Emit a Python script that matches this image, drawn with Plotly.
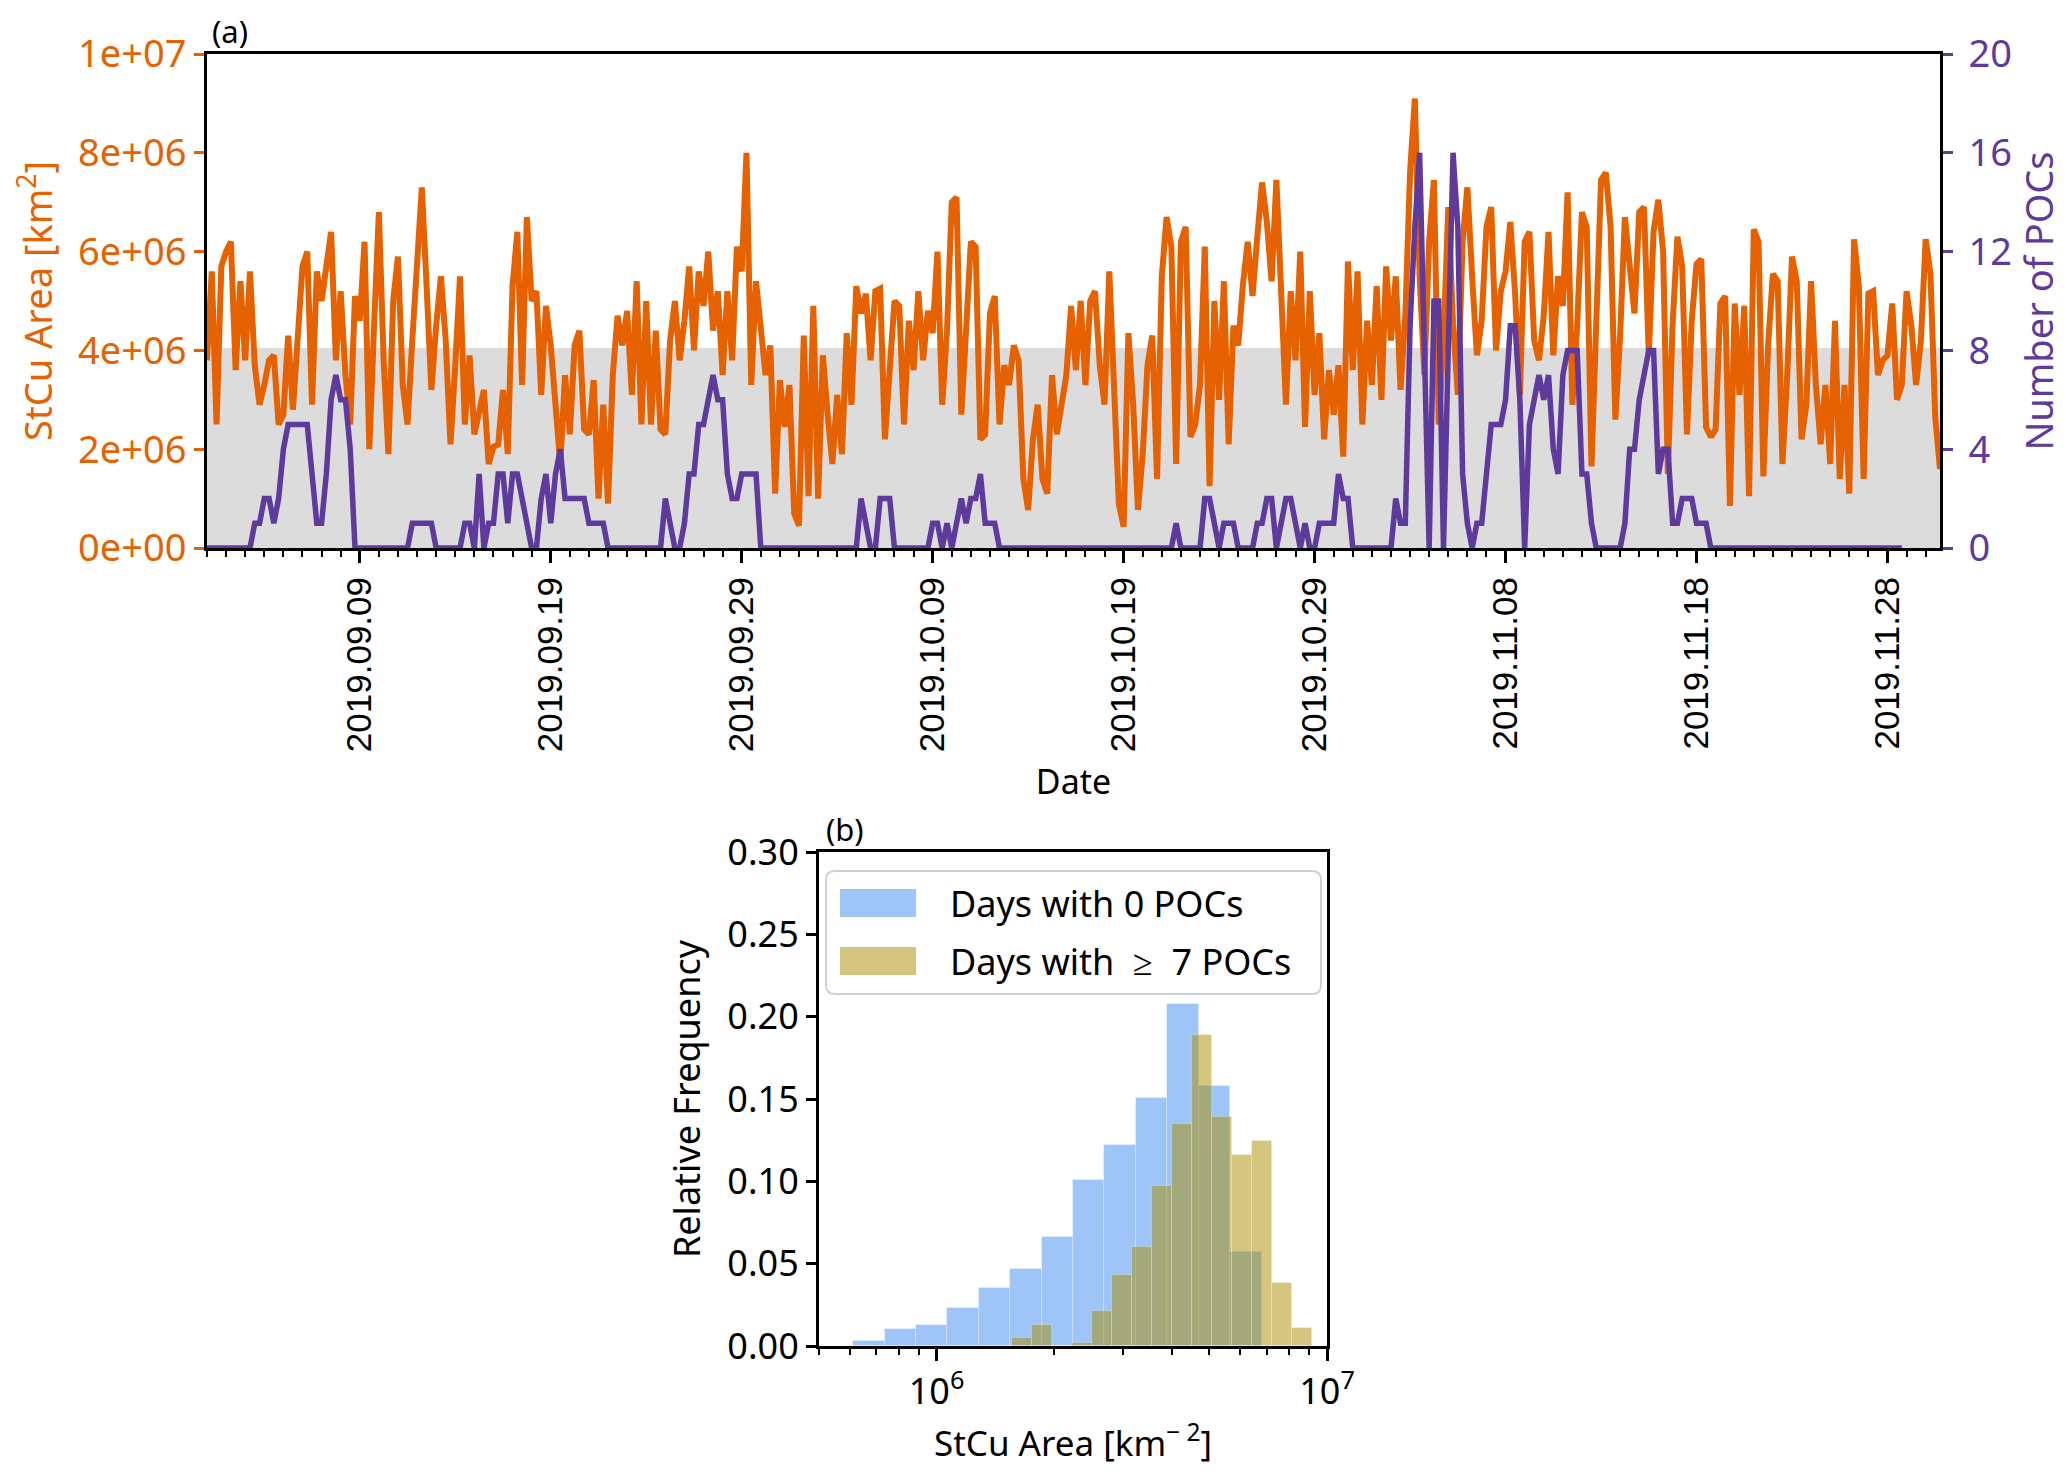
import numpy as np
import pandas as pd
import plotly.graph_objects as go

# ---- data -----------------------------------------------------------------
# StCu area, 6-hourly from 2019-09-01 00:00, in units of 1e6 km^2
STCU_AREA_MKM2 = [
    3.8, 5.6, 2.5, 5.7,   6.0, 6.2, 3.6, 5.4,   3.8, 5.6, 3.7, 2.9,   3.3, 3.8, 3.9, 2.5,
    2.7, 4.3, 2.8, 4.2,   5.7, 6.0, 2.9, 5.6,   5.0, 5.7, 6.4, 3.8,   5.2, 3.5, 2.5, 5.1,
    4.6, 6.2, 2.0, 4.5,   6.8, 3.8, 1.9, 5.0,   5.9, 3.3, 2.5, 4.2,   5.6, 7.3, 5.3, 3.2,
    4.5, 5.5, 4.2, 2.1,   3.7, 5.5, 2.5, 3.9,   2.3, 2.7, 3.2, 1.7,   2.05, 2.1, 3.2, 1.9,
    5.3, 6.4, 3.3, 6.7,   5.0, 5.2, 3.1, 4.9,   4.1, 2.9, 1.7, 3.5,   2.3, 4.1, 4.4, 2.4,
    2.3, 3.4, 1.0, 2.9,   0.9, 3.5, 4.7, 4.1,   4.8, 3.1, 5.4, 2.5,   5.0, 2.5, 4.4, 2.4,
    2.3, 4.2, 5.0, 3.8,   4.6, 5.7, 4.0, 5.6,   4.9, 6.0, 4.4, 5.2,   3.5, 5.2, 3.8, 6.1,
    5.6, 8.0, 3.3, 5.4,   4.35, 3.5, 4.1, 1.1,  3.4, 2.45, 3.3, 0.7,  0.45, 4.3, 1.05, 4.9,
    1.0, 3.9, 2.7, 1.7,   3.1, 1.9, 4.35, 2.9,  5.3, 4.75, 5.15, 3.8, 5.2, 5.25, 2.2, 3.7,
    5.0, 4.9, 2.5, 4.6,   3.6, 5.2, 3.8, 4.8,   4.35, 6.0, 2.9, 4.4,  7.0, 7.1, 2.7, 4.4,
    6.2, 6.1, 2.2, 2.3,   4.75, 5.1, 2.5, 3.7,  3.3, 4.1, 3.8, 1.4,   0.77, 2.2, 2.9, 1.4,
    1.1, 3.5, 2.3, 2.9,   3.5, 4.9, 3.6, 5.0,   3.3, 5.0, 5.2, 3.7,   2.9, 5.6, 3.5, 0.9,
    0.43, 4.35, 2.9, 0.77, 1.9, 3.7, 4.3, 1.4,  5.5, 6.7, 6.1, 1.7,   6.2, 6.5, 2.25, 2.5,
    3.3, 6.1, 1.25, 5.0,  3.0, 5.4, 2.1, 4.5,   4.1, 5.35, 6.2, 5.1,  6.3, 7.4, 6.6, 5.4,
    7.45, 4.9, 2.9, 5.2,  3.8, 6.0, 2.45, 5.2,  3.1, 4.35, 2.2, 3.6,  2.7, 3.7, 1.85, 5.8,
    3.6, 5.6, 2.5, 4.6,   3.3, 5.3, 3.0, 5.7,   4.2, 5.5, 3.2, 4.7,   7.6, 9.1, 5.5, 3.5,
    6.2, 7.45, 2.5, 4.2,  6.9, 4.55, 3.1, 6.2,  7.3, 5.5, 3.9, 4.6,   6.5, 6.9, 4.0, 5.2,
    5.6, 6.6, 5.15, 3.1,  6.2, 6.4, 4.2, 3.8,   4.7, 6.4, 3.9, 5.5,   4.9, 7.2, 2.9, 4.5,
    6.8, 6.5, 1.65, 4.55, 7.45, 7.6, 6.5, 2.6,  4.3, 6.7, 5.7, 4.75,  6.8, 6.9, 3.9, 6.4,
    7.05, 6.0, 1.5, 4.55, 6.3, 5.7, 2.3, 4.6,   5.75, 5.85, 2.45, 2.25, 2.4, 4.95, 5.1, 0.85,
    4.95, 3.1, 4.9, 1.05, 6.45, 6.2, 1.45, 4.1, 5.55, 5.4, 1.7, 3.5,  5.9, 5.4, 2.2, 2.9,
    5.4, 3.3, 2.1, 3.3,   1.7, 4.6, 1.4, 3.3,   1.1, 6.25, 5.3, 1.4,  5.15, 5.2, 3.5, 3.8,
    3.9, 4.95, 3.0, 3.3,  5.2, 4.5, 3.3, 4.2,   6.25, 5.55, 2.65, 1.6,
]

# number of POCs, same 6-hourly time steps
POC_COUNT = [
    0, 0, 0, 0,  0, 0, 0, 0,  0, 0, 1, 1,  2, 2, 1, 2,  4, 5, 5, 5,  5, 5, 3, 1,
    1, 3, 6, 7,  6, 6, 4, 0,  0, 0, 0, 0,  0, 0, 0, 0,  0, 0, 0, 1,  1, 1, 1, 1,
    0, 0, 0, 0,  0, 0, 1, 1,  0, 3, 0, 1,  1, 3, 3, 1,  3, 3, 2, 1,  0, 0, 2, 3,
    1, 3, 4, 2,  2, 2, 2, 2,  1, 1, 1, 1,  0, 0, 0, 0,  0, 0, 0, 0,  0, 0, 0, 0,
    2, 1, 0, 0,  1, 3, 3, 5,  5, 6, 7, 6,  6, 3, 2, 2,  3, 3, 3, 3,  0, 0, 0, 0,
    0, 0, 0, 0,  0, 0, 0, 0,  0, 0, 0, 0,  0, 0, 0, 0,  0, 2, 1, 0,  0, 2, 2, 2,
    0, 0, 0, 0,  0, 0, 0, 0,  1, 1, 0, 1,  0, 1, 2, 1,  2, 2, 3, 1,  1, 1, 0, 0,
    0, 0, 0, 0,  0, 0, 0, 0,  0, 0, 0, 0,  0, 0, 0, 0,  0, 0, 0, 0,  0, 0, 0, 0,
    0, 0, 0, 0,  0, 0, 0, 0,  0, 0, 0, 1,  0, 0, 0, 0,  0, 2, 2, 1,  0, 1, 1, 1,
    0, 0, 0, 0,  1, 1, 2, 2,  0, 1, 2, 2,  1, 0, 1, 0,  0, 1, 1, 1,  1, 3, 2, 2,
    0, 0, 0, 0,  0, 0, 0, 0,  0, 2, 1, 1,  9, 13, 16, 8,  0, 10, 10, 0,  8, 16, 13, 3,
    1, 0, 1, 1,  3, 5, 5, 5,  6, 9, 9, 6,  0, 5, 6, 7,  6, 7, 4, 3,  7, 8, 8, 8,
    3, 3, 1, 0,  0, 0, 0, 0,  0, 1, 4, 4,  6, 7, 8, 8,  3, 4, 4, 1,  1, 2, 2, 2,
    1, 1, 1, 0,  0, 0, 0, 0,  0, 0, 0, 0,  0, 0, 0, 0,  0, 0, 0, 0,  0, 0, 0, 0,
    0, 0, 0, 0,  0, 0, 0, 0,  0, 0, 0, 0,  0, 0, 0, 0,  0, 0, 0, 0,
]

START = "2019-09-01 00:00"
GRAY_TOP = 4.05e6  # upper edge of shaded band [km^2]
AREA_TICKS = [0, 2e6, 4e6, 6e6, 8e6, 1e7]
POC_TICKS = [0, 4, 8, 12, 16, 20]

# histogram (b): bin edges [km^2] and relative frequencies
ZERO_POC_EDGES = [6.11e5, 7.36e5, 8.85e5, 1.065e6, 1.282e6, 1.543e6, 1.858e6,
                  2.236e6, 2.692e6, 3.24e6, 3.90e6, 4.695e6, 5.65e6, 6.80e6]
ZERO_POC_FREQ = [0.003, 0.0105, 0.0126, 0.0228, 0.0353, 0.0466, 0.0664,
                 0.1007, 0.1222, 0.1509, 0.2074, 0.158, 0.0568]
MANY_POC_EDGES = [1.557e6, 1.753e6, 1.973e6, 2.221e6, 2.499e6, 2.812e6, 3.165e6,
                  3.562e6, 4.009e6, 4.511e6, 5.077e6, 5.713e6, 6.430e6, 7.236e6,
                  8.143e6, 9.162e6]
MANY_POC_FREQ = [0.005, 0.0126, 0.0, 0.002, 0.021, 0.043, 0.060, 0.097,
                 0.135, 0.189, 0.139, 0.116, 0.1245, 0.038, 0.011]
HIST_XLIM = (5e5, 1e7)
HIST_MAJOR = [1e6, 1e7]
HIST_MINOR = [5e5, 6e5, 7e5, 8e5, 9e5, 2e6, 3e6, 4e6, 5e6, 6e6, 7e6, 8e6, 9e6]

# ---- style ----------------------------------------------------------------
W, H = 2067, 1477
OFF = 8  # page body margin
ORANGE = "#e66100"
PURPLE = "#5d3a9b"
FONT = "Noto Sans"
DATE_FONT = "Liberation Sans"


def fx(px):
    return (px - OFF) / W


def fy(px):
    return 1 - (px - OFF) / H


times = pd.date_range(START, periods=len(STCU_AREA_MKM2), freq="6h")
area = np.array(STCU_AREA_MKM2) * 1e6

fig = go.Figure()

fig.add_trace(go.Scatter(x=times, y=area, mode="lines", line=dict(color=ORANGE, width=6),
                         xaxis="x", yaxis="y", showlegend=False))
fig.add_trace(go.Scatter(x=times, y=POC_COUNT, mode="lines", line=dict(color=PURPLE, width=5.5),
                         xaxis="x", yaxis="y2", showlegend=False))

# histogram bars on a log10 position scale
for edges, freq, color in [
    (ZERO_POC_EDGES, ZERO_POC_FREQ, "rgba(63,139,241,0.5)"),
    (MANY_POC_EDGES, MANY_POC_FREQ, "rgba(170,142,0,0.5)"),
]:
    le = np.log10(edges)
    fig.add_trace(go.Bar(
        x=(le[:-1] + le[1:]) / 2, y=freq, width=np.diff(le),
        marker=dict(color=color, line=dict(width=0.8, color="rgba(255,255,255,0.35)")),
        xaxis="x2", yaxis="y3", showlegend=False,
    ))

# shaded band in panel (a)
fig.add_shape(type="rect", xref="x domain", yref="y", x0=0, x1=1, y0=0, y1=GRAY_TOP,
              fillcolor="#dcdcdc", line_width=0, layer="below")

axis_common = dict(showgrid=False, zeroline=False, showline=True, linecolor="black",
                   linewidth=3, ticks="outside", automargin=False)

top_x = [fx(207), fx(1940)]
top_y = [fy(548), fy(54)]
bot_x = [fx(819), fx(1327)]
bot_y = [fy(1346), fy(852)]

fig.update_layout(
    width=W, height=H, template="none",
    margin=dict(l=0, r=0, t=0, b=0),
    paper_bgcolor="white", plot_bgcolor="white",
    barmode="overlay", bargap=0,
    font=dict(family=FONT, size=34, color="black"),
    xaxis=dict(
        **axis_common, domain=top_x, anchor="y", type="date",
        range=[times[0], times[-1]], mirror=True,
        tickmode="linear", tick0="2019-09-09", dtick=10 * 86400000,
        tickformat="%Y.%m.%d", tickangle=-90, ticklen=12, tickwidth=2.5, tickcolor="black",
        tickfont=dict(family=DATE_FONT, size=35, color="black"),
        minor=dict(ticks="outside", tickmode="linear", tick0="2019-09-01",
                   dtick=86400000, ticklen=6, tickwidth=2, tickcolor="black"),
        title=dict(text="Date", font=dict(size=34), standoff=20),
    ),
    yaxis=dict(
        **axis_common, domain=top_y, anchor="x", range=[0, 1e7],
        tickmode="array", tickvals=AREA_TICKS, ticktext=[f"{v:.0e}" for v in AREA_TICKS],
        ticklen=10, tickwidth=2.5, tickcolor=ORANGE,
        tickfont=dict(size=38, color=ORANGE),
        title=dict(text="StCu Area [km<sup>2</sup>]", font=dict(size=38, color=ORANGE), standoff=25),
    ),
    yaxis2=dict(
        **axis_common, overlaying="y", side="right", anchor="x", range=[0, 20],
        tickmode="array", tickvals=POC_TICKS,
        ticklen=10, tickwidth=2.5, tickcolor=PURPLE, ticklabelstandoff=8,
        tickfont=dict(size=38, color=PURPLE),
        title=dict(text="Number of POCs", font=dict(size=38, color=PURPLE), standoff=15),
    ),
    xaxis2=dict(
        **axis_common, domain=bot_x, anchor="y3", mirror=True,
        range=list(np.log10(HIST_XLIM)),
        tickmode="array", tickvals=list(np.log10(HIST_MAJOR)),
        ticktext=[f"10<sup>{int(round(np.log10(v)))}</sup>" for v in HIST_MAJOR],
        ticklen=12, tickwidth=2.5, tickcolor="black",
        tickfont=dict(size=36),
        minor=dict(ticks="outside", tickmode="array", tickvals=list(np.log10(HIST_MINOR)),
                   ticklen=6, tickwidth=2, tickcolor="black"),
        title=dict(text="StCu Area [km<sup>\u2212 2</sup>]", font=dict(size=35), standoff=12),
    ),
    yaxis3=dict(
        **axis_common, domain=bot_y, anchor="x2", mirror=True, range=[0, 0.3],
        tickmode="linear", tick0=0, dtick=0.05, tickformat=".2f",
        ticklen=10, tickwidth=2.5, tickcolor="black", tickfont=dict(size=36),
        title=dict(text="Relative Frequency", font=dict(size=36), standoff=16),
    ),
)

# panel labels
fig.add_annotation(text="(a)", xref="x domain", yref="y domain", x=0.002, y=1.0,
                   xanchor="left", yanchor="bottom", showarrow=False, font=dict(size=31))
fig.add_annotation(text="(b)", xref="x2 domain", yref="y3 domain", x=0.01, y=1.0,
                   xanchor="left", yanchor="bottom", showarrow=False, font=dict(size=31))

# legend for panel (b): rounded frame, swatches and labels
x0, x1, y0, y1, r = 826, 1321, 871, 994, 9
path = (f"M {fx(x0 + r)},{fy(y0)} L {fx(x1 - r)},{fy(y0)} Q {fx(x1)},{fy(y0)} {fx(x1)},{fy(y0 + r)} "
        f"L {fx(x1)},{fy(y1 - r)} Q {fx(x1)},{fy(y1)} {fx(x1 - r)},{fy(y1)} "
        f"L {fx(x0 + r)},{fy(y1)} Q {fx(x0)},{fy(y1)} {fx(x0)},{fy(y1 - r)} "
        f"L {fx(x0)},{fy(y0 + r)} Q {fx(x0)},{fy(y0)} {fx(x0 + r)},{fy(y0)} Z")
fig.add_shape(type="path", path=path, xref="paper", yref="paper",
              fillcolor="rgba(255,255,255,0.85)", line=dict(color="#d0d0d0", width=2))

legend_items = [
    ("Days with 0 POCs", "rgba(63,139,241,0.5)", 903),
    ("Days with\u00a0\u00a0\u2265\u00a0\u00a07 POCs", "rgba(170,142,0,0.5)", 961),
]
for label, color, yc in legend_items:
    fig.add_shape(type="rect", xref="paper", yref="paper",
                  x0=fx(840), x1=fx(916), y0=fy(yc + 14), y1=fy(yc - 14),
                  fillcolor=color, line_width=0)
    fig.add_annotation(text=label, xref="paper", yref="paper", x=fx(948), y=fy(yc),
                       xanchor="left", yanchor="middle", showarrow=False, font=dict(size=36))

fig.write_html("out.html")
